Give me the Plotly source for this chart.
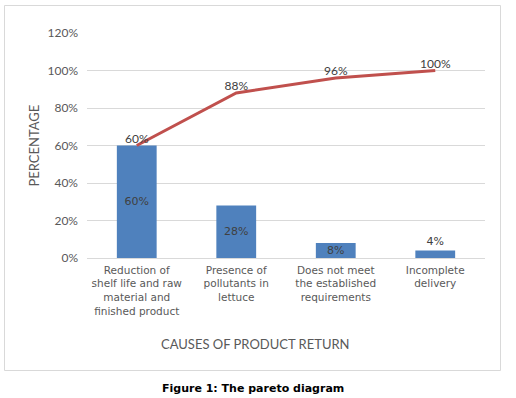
import plotly.graph_objects as go

categories = [
    "Reduction of<br>shelf life and raw<br>material and<br>finished product",
    "Presence of<br>pollutants in<br>lettuce",
    "Does not meet<br>the established<br>requirements",
    "Incomplete<br>delivery",
]
bar_values = [60, 28, 8, 4]
cumulative_values = [60, 88, 96, 100]
y_ticks = [0, 20, 40, 60, 80, 100, 120]
y_tick_labels = ["0%", "20%", "40%", "60%", "80%", "100%", "120%"]

W, H = 516, 398
L, R, T, B = 87, 31, 33, 140
pw, ph = W - L - R, H - T - B

def px_x(px):
    return (px - L) / pw

def px_y(py):
    return (H - B - py) / ph

fig = go.Figure()
fig.add_trace(go.Bar(
    x=categories, y=bar_values,
    marker=dict(color="#4F81BD", line=dict(width=0)),
    width=0.4,
    text=[f"{v}%" for v in bar_values],
    textposition=["inside", "inside", "inside", "outside"],
    insidetextanchor="middle",
    constraintext="none",
    cliponaxis=False,
    textfont=dict(family="DejaVu Sans", size=11, color="#404040"),
    hoverinfo="skip",
))
fig.add_trace(go.Scatter(
    x=categories, y=cumulative_values,
    mode="lines+text",
    line=dict(color="#C0504D", width=3),
    text=[f"{v}%" for v in cumulative_values],
    textposition="top center",
    textfont=dict(family="Lato", size=12, color="#404040"),
    cliponaxis=False,
))

fig.update_layout(
    width=W, height=H,
    margin=dict(l=L, r=R, t=T, b=B, autoexpand=False),
    paper_bgcolor="white", plot_bgcolor="white",
    showlegend=False,
    bargap=0.6,
    xaxis=dict(
        showgrid=False, showline=True, linecolor="#D9D9D9", linewidth=1,
        ticks="", tickfont=dict(family="DejaVu Sans", size=10.5, color="#595959"),
        ticklabelstandoff=2, automargin=False,
    ),
    yaxis=dict(
        range=[0, 120], tickvals=y_ticks, ticktext=y_tick_labels,
        showgrid=True, gridcolor="#D9D9D9", gridwidth=1, zeroline=False,
        showline=False, ticks="", automargin=False,
        tickfont=dict(family="Lato", size=12, color="#595959"),
        ticklabelstandoff=8,
    ),
    shapes=[dict(
        type="rect", xref="paper", yref="paper",
        x0=px_x(4.5), x1=px_x(500.5), y0=px_y(370.5), y1=px_y(5.5),
        line=dict(color="#D9D9D9", width=1), layer="below",
    )],
    annotations=[
        dict(text="PERCENTAGE", xref="paper", yref="paper", x=px_x(33), y=0.5,
             xanchor="center", yanchor="middle",
             textangle=-90, showarrow=False,
             font=dict(family="Lato", size=13, color="#595959")),
        dict(text="CAUSES OF PRODUCT RETURN", xref="paper", yref="paper",
             x=px_x(255), y=px_y(344), xanchor="center", yanchor="middle",
             showarrow=False,
             font=dict(family="Lato", size=13, color="#595959")),
        dict(text="<b>Figure 1: The pareto diagram</b>", xref="paper", yref="paper",
             x=px_x(253), y=px_y(388), xanchor="center", yanchor="middle",
             showarrow=False,
             font=dict(family="DejaVu Sans", size=11, color="black")),
    ],
)

fig.write_html(
    "out.html",
    config={"displayModeBar": False, "staticPlot": True},
    post_script="document.body.style.margin='0';document.body.style.overflow='hidden';",
)
